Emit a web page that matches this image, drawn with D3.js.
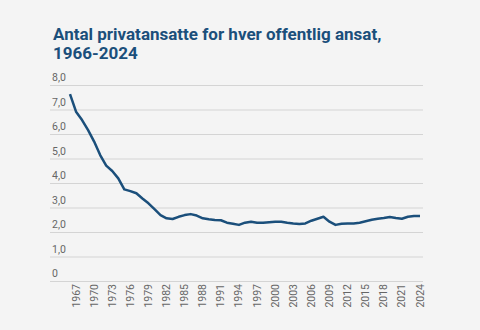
<!DOCTYPE html>
<html>
<head>
<meta charset="utf-8">
<script src="https://cdn.jsdelivr.net/npm/d3@7"></script>
<style>
  body { margin: 0; background: #f4f4f4; }
  svg { display: block; font-family: Roboto, sans-serif; }
</style>
</head>
<body>
<div id="graphArea"></div>
<script>
// antal privatansatte pr. offentligt ansat
var years = d3.range(1966, 2025)
var ratio = [
  7.63, 6.91, 6.57, 6.16, 5.69, 5.14, 4.71, 4.49, 4.19, 3.74,
  3.67, 3.58, 3.37, 3.17, 2.93, 2.69, 2.56, 2.53, 2.62, 2.69,
  2.73, 2.67, 2.56, 2.52, 2.49, 2.48, 2.38, 2.34, 2.29, 2.38,
  2.42, 2.38, 2.38, 2.40, 2.42, 2.42, 2.38, 2.35, 2.33, 2.35,
  2.46, 2.54, 2.62, 2.42, 2.29, 2.34, 2.35, 2.35, 2.38, 2.44,
  2.50, 2.54, 2.57, 2.61, 2.57, 2.54, 2.62, 2.65, 2.65
]
var yTicks = [0, 1, 2, 3, 4, 5, 6, 7, 8]
var xTicks = d3.range(1967, 2025, 3)

var width = 480
var height = 330

var svg = d3.select("#graphArea")
  .append("svg")
    .attr("width", width)
    .attr("height", height)

svg.append("text")
  .attr("x", 53)
  .attr("y", 40)
  .attr("fill", "#1b4f7b")
  .style("font-size", "17px")
  .style("font-weight", "700")
  .text("Antal privatansatte for hver offentlig ansat,")
svg.append("text")
  .attr("x", 53)
  .attr("y", 59)
  .attr("fill", "#1b4f7b")
  .style("font-size", "17px")
  .style("font-weight", "700")
  .text("1966-2024")

var x = d3.scaleLinear()
  .domain([1966, 2024])
  .range([70, 420])

var y = d3.scaleLinear()
  .domain([0, 8])
  .range([281, 85])

// vandrette gitterlinjer
svg.append("g")
  .selectAll("line")
  .data(yTicks)
  .enter()
  .append("line")
    .attr("x1", 50)
    .attr("x2", 423)
    .attr("y1", function(d) { return y(d) + 0.5 })
    .attr("y2", function(d) { return y(d) + 0.5 })
    .attr("stroke", "#d4d4d4")
    .attr("stroke-width", 1)

svg.append("g")
  .selectAll("text")
  .data(yTicks)
  .enter()
  .append("text")
    .attr("x", 52)
    .attr("y", function(d) { return y(d) - 4 })
    .attr("fill", "#666")
    .style("font-size", "10.5px")
    .text(function(d) { return d == 0 ? "0" : d3.format(".1f")(d).replace(".", ",") })

svg.append("g")
  .selectAll("text")
  .data(xTicks)
  .enter()
  .append("text")
    .attr("transform", function(d) { return "translate(" + (x(d) + 3.5) + ",284)rotate(-90)" })
    .attr("text-anchor", "end")
    .attr("fill", "#666")
    .style("font-size", "10.5px")
    .text(function(d) { return d })

var line = d3.line()
  .x(function(d, i) { return x(years[i]) })
  .y(function(d) { return y(d) })

svg.append("path")
  .datum(ratio)
  .attr("d", line)
  .attr("fill", "none")
  .attr("stroke", "#1b4f7b")
  .attr("stroke-width", 2.5)
  .attr("stroke-linejoin", "round")
</script>
</body>
</html>
